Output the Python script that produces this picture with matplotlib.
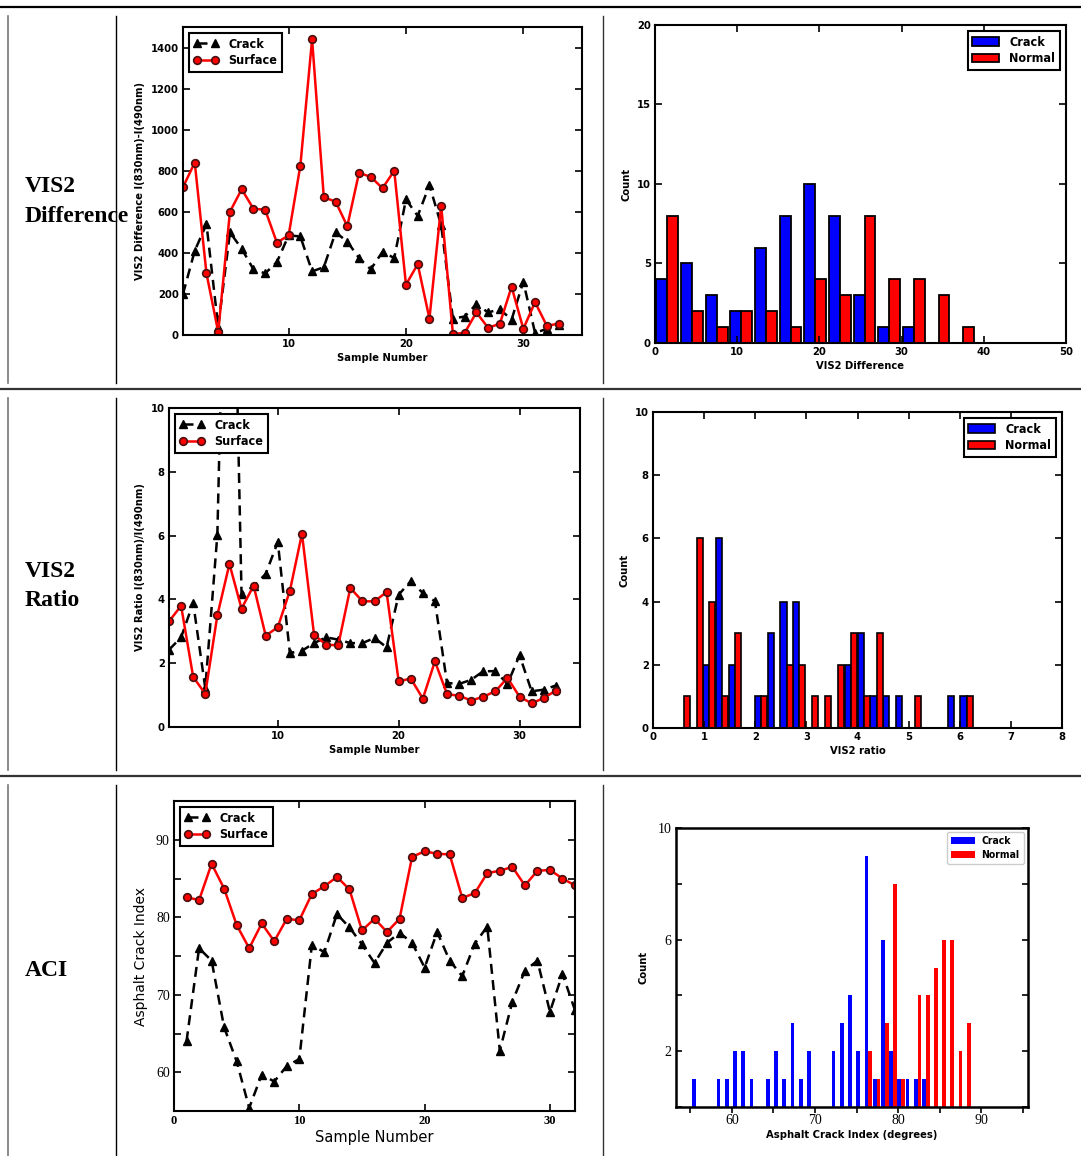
import numpy as np
import matplotlib
matplotlib.use("Agg")
import matplotlib.pyplot as plt
from matplotlib.lines import Line2D

# ---------------- data ----------------
samples_33 = list(range(1, 34))
samples_32 = list(range(1, 33))

diff_crack = [200, 410, 540, 40, 500, 420, 320, 300, 355, 485, 480, 310, 330, 500,
              455, 375, 320, 405, 375, 660, 580, 730, 535, 80, 90, 150, 110, 125,
              75, 260, 10, 30, 50]
diff_surface = [720, 840, 300, 15, 600, 710, 615, 610, 450, 485, 825, 1440, 670, 650,
                530, 790, 770, 715, 800, 245, 345, 80, 630, 5, 10, 110, 35, 55, 235,
                30, 160, 45, 55]

ratio_crack = [2.42, 2.81, 3.89, 1.22, 6.03, 22.0, 4.18, 4.41, 4.80, 5.80, 2.32, 2.39,
               2.63, 2.81, 2.74, 2.63, 2.63, 2.79, 2.50, 4.15, 4.57, 4.20, 3.94, 1.38,
               1.35, 1.48, 1.75, 1.75, 1.35, 2.25, 1.12, 1.17, 1.30]
ratio_surface = [3.31, 3.80, 1.57, 1.04, 3.50, 5.11, 3.71, 4.43, 2.86, 3.13, 4.27, 6.06,
                 2.89, 2.58, 2.56, 4.36, 3.94, 3.94, 4.23, 1.43, 1.52, 0.89, 2.06, 1.03,
                 0.98, 0.83, 0.95, 1.12, 1.54, 0.95, 0.74, 0.91, 1.14]

aci_crack = [64.0, 76.0, 74.4, 65.8, 61.4, 55.4, 59.7, 58.8, 60.8, 61.7, 76.4, 75.5,
             80.4, 78.7, 76.5, 74.1, 76.7, 78.0, 76.7, 73.5, 78.1, 74.4, 72.4, 76.6,
             78.8, 62.8, 69.1, 73.1, 74.4, 67.8, 72.7, 68.0]
aci_surface = [82.6, 82.2, 86.9, 83.7, 79.0, 76.0, 79.2, 76.9, 79.8, 79.6, 83.0, 84.0,
               85.2, 83.6, 78.3, 79.8, 78.1, 79.8, 87.8, 88.5, 88.2, 88.1, 82.5, 83.1,
               85.7, 86.0, 86.5, 84.1, 86.0, 86.1, 85.0, 84.1]

# histogram counts (bin start / bin width describe the binning)
diff_bin_start, diff_bin_width = 0.0, 3.0
diff_hist_crack = [4, 5, 3, 2, 6, 8, 10, 8, 3, 1, 1, 0, 0]
diff_hist_normal = [8, 2, 1, 2, 2, 1, 4, 3, 8, 4, 4, 3, 1]

ratio_bin_start, ratio_bin_width = 0.474, 0.2515
ratio_hist_crack = [0, 0, 2, 6, 2, 0, 1, 3, 4, 4, 0, 0, 0, 2, 3, 1, 1, 1, 0, 0, 0, 1, 1]
ratio_hist_normal = [1, 6, 4, 1, 3, 0, 1, 0, 2, 2, 1, 1, 2, 3, 1, 3, 0, 0, 1, 0, 0, 0, 1]

aci_bin_start, aci_bin_width = 55.19, 0.987
aci_hist_crack = [1, 0, 0, 1, 1, 2, 2, 1, 0, 1, 2, 1, 3, 1, 2, 0, 0, 2, 3, 4, 2, 9, 1,
                  6, 2, 1, 1, 1, 1, 0, 0, 0, 0, 0]
aci_hist_normal = [0, 0, 0, 0, 0, 0, 0, 0, 0, 0, 0, 0, 0, 0, 0, 0, 0, 0, 0, 0, 0, 2, 1,
                   3, 8, 1, 0, 4, 4, 5, 6, 6, 2, 3]

row_labels = [["VIS2", "Difference"], ["VIS2", "Ratio"], ["ACI"]]

# ---------------- figure ----------------
W, H = 1081, 1156
fig = plt.figure(figsize=(W / 100, H / 100), dpi=100)
fig.patch.set_facecolor("white")


def box(l, t, r, b):
    return fig.add_axes([l / W, 1 - b / H, (r - l) / W, (b - t) / H])


def hline(y, x0, x1, lw, color):
    fig.add_artist(Line2D([x0 / W, x1 / W], [1 - y / H, 1 - y / H],
                          transform=fig.transFigure, lw=lw, color=color))


def vline(x, y0, y1, lw, color):
    fig.add_artist(Line2D([x / W, x / W], [1 - y0 / H, 1 - y1 / H],
                          transform=fig.transFigure, lw=lw, color=color))


BOLD = dict(family="DejaVu Sans", weight="bold", stretch="condensed")
SERIF = dict(family="Liberation Serif")

# table rules
hline(7, 0, W, 1.6, "black")
hline(389, 0, W, 1.6, "#333333")
hline(776, 0, W, 1.6, "#333333")
for (y0, y1) in [(16, 383), (398, 770), (785, 1156)]:
    vline(8, y0, y1, 1.2, "#777777")
    vline(116, y0, y1, 1.0, "black")
    vline(603, y0, y1, 1.0, "#333333")

# row labels
rl_font = dict(family="Liberation Serif", weight="bold", fontsize=17)
for (lines, baselines) in zip(row_labels, [[192, 222], [577, 606], [976]]):
    for txt, yb in zip(lines, baselines):
        fig.text(25 / W, 1 - yb / H, txt, ha="left", va="baseline", **rl_font)


def classic_axes(ax, lw=1.5):
    for s in ax.spines.values():
        s.set_linewidth(lw)
        s.set_color("black")
    ax.tick_params(direction="in", top=True, right=True, length=5, width=1.2, pad=3)


def set_ticks(ax, xt, yt, xlab=None, ylab=None, font=BOLD, size=8):
    ax.set_xticks(xt)
    ax.set_yticks(yt)
    ax.set_xticklabels(xlab if xlab is not None else [str(v) for v in xt], fontsize=size, **font)
    ax.set_yticklabels(ylab if ylab is not None else [str(v) for v in yt], fontsize=size, **font)


def line_panel(ax, x, crack, surface, legsize=9):
    ax.plot(x, crack, color="black", ls="--", dashes=(4, 2.5), lw=1.8, marker="^",
            ms=6, mfc="black", mec="black", label="Crack", clip_on=True)
    ax.plot(x, surface, color="red", ls="-", lw=1.8, marker="o", ms=5.5,
            mfc="red", mec="#4a1010", mew=1.2, label="Surface", clip_on=True)
    leg = ax.legend(loc="upper left", numpoints=2, fancybox=False, framealpha=1,
                    edgecolor="black", prop=dict(size=legsize, **BOLD),
                    borderaxespad=0.5, handlelength=2.0, borderpad=0.35,
                    labelspacing=0.3, handletextpad=0.8)
    leg.get_frame().set_linewidth(1.5)


def grouped_hist(ax, start, width, crack, normal, rwidth, edgecolor, lw):
    edges = start + width * np.arange(len(crack))
    bw = width * rwidth / 2
    left = edges + width * (1 - rwidth) / 2
    kw = dict(align="edge", width=bw, linewidth=lw, edgecolor=edgecolor)
    ax.bar(left, crack, color="blue", label="Crack", **kw)
    ax.bar(left + bw, normal, color="red", label="Normal", **kw)


# ---------- Panel 1: VIS2 difference line ----------
ax1 = box(183, 27, 582, 335)
classic_axes(ax1)
line_panel(ax1, samples_33, diff_crack, diff_surface)
ax1.set_xlim(1, 35)
ax1.set_ylim(0, 1500)
set_ticks(ax1, [10, 20, 30], list(range(0, 1401, 200)))
ax1.set_xlabel("Sample Number", fontsize=8, labelpad=3, **BOLD)
ax1.set_ylabel("VIS2 Difference I(830nm)-I(490nm)", fontsize=8, labelpad=4, **BOLD)

# ---------- Panel 2: VIS2 difference histogram ----------
ax2 = box(655, 25, 1066, 343)
classic_axes(ax2)
grouped_hist(ax2, diff_bin_start, diff_bin_width, diff_hist_crack, diff_hist_normal,
             0.88, "black", 1.3)
ax2.set_xlim(0, 50)
ax2.set_ylim(0, 20)
set_ticks(ax2, list(range(0, 51, 10)), [0, 5, 10, 15, 20])
ax2.set_xlabel("VIS2 Difference", fontsize=8, labelpad=3, **BOLD)
ax2.set_ylabel("Count", fontsize=8, labelpad=4, **BOLD)
leg = ax2.legend(loc="upper right", fancybox=False, framealpha=1, edgecolor="black",
                 prop=dict(size=9, **BOLD), borderaxespad=0.5, handlelength=2.2,
                 borderpad=0.35, labelspacing=0.3, handletextpad=0.8)
leg.get_frame().set_linewidth(1.5)

# ---------- Panel 3: VIS2 ratio line ----------
ax3 = box(169, 408, 580, 727)
classic_axes(ax3)
line_panel(ax3, samples_33, ratio_crack, ratio_surface)
ax3.set_xlim(1, 35)
ax3.set_ylim(0, 10)
set_ticks(ax3, [10, 20, 30], list(range(0, 11, 2)))
ax3.set_xlabel("Sample Number", fontsize=8, labelpad=3, **BOLD)
ax3.set_ylabel("VIS2 Ratio I(830nm)/I(490nm)", fontsize=8, labelpad=4, **BOLD)

# ---------- Panel 4: VIS2 ratio histogram ----------
ax4 = box(653, 412, 1062, 728)
classic_axes(ax4)
grouped_hist(ax4, ratio_bin_start, ratio_bin_width, ratio_hist_crack, ratio_hist_normal,
             0.95, "black", 1.2)
ax4.set_xlim(0, 8)
ax4.set_ylim(0, 10)
set_ticks(ax4, list(range(0, 9)), list(range(0, 11, 2)))
ax4.set_xlabel("VIS2 ratio", fontsize=8, labelpad=3, **BOLD)
ax4.set_ylabel("Count", fontsize=8, labelpad=4, **BOLD)
leg = ax4.legend(loc="upper right", fancybox=False, framealpha=1, edgecolor="black",
                 prop=dict(size=9, **BOLD), borderaxespad=0.5, handlelength=2.2,
                 borderpad=0.35, labelspacing=0.3, handletextpad=0.8)
leg.get_frame().set_linewidth(1.5)

# ---------- Panel 5: ACI line ----------
ax5 = box(174, 801, 575, 1111)
classic_axes(ax5)
line_panel(ax5, samples_32, aci_crack, aci_surface)
ax5.set_xlim(0, 32)
ax5.set_ylim(55, 95)
ax5.set_xticks([0, 10, 20, 30])
ax5.set_xticklabels(["0", "10", "20", "30"], fontsize=9, family="Liberation Serif",
                    weight="bold")
ax5.set_yticks([60, 70, 80, 90])
ax5.set_yticklabels(["60", "70", "80", "90"], fontsize=10, **SERIF)
ax5.set_yticks([65, 75, 85], minor=True)
ax5.tick_params(which="minor", direction="in", right=True, left=True, length=5, width=1.2)
ax5.set_xlabel("Sample Number", fontsize=10.5, family="DejaVu Sans", labelpad=2)
ax5.set_ylabel("Asphalt Crack Index", fontsize=10, family="DejaVu Sans", labelpad=6)

# ---------- Panel 6: ACI histogram ----------
ax6 = box(676, 828, 1028, 1107)
for s in ax6.spines.values():
    s.set_linewidth(1.8)
grouped_hist(ax6, aci_bin_start, aci_bin_width, aci_hist_crack, aci_hist_normal,
             0.92, "none", 0)
ax6.set_xlim(53.3, 95.6)
ax6.set_ylim(0, 10)
ax6.set_xticks(list(range(55, 96, 5)))
ax6.set_xticklabels(["" if v % 10 else str(v) for v in range(55, 96, 5)], fontsize=10,
                    **SERIF)
ax6.set_yticks(list(range(0, 11, 2)))
ax6.set_yticklabels(["", "2", "", "6", "", "10"], fontsize=10, **SERIF)
ax6.tick_params(axis="x", direction="out", length=4, width=1.2, pad=1)
ax6.tick_params(axis="y", direction="in", right=True, length=4, width=1.2)
ax6.set_xlabel("Asphalt Crack Index (degrees)", fontsize=8, labelpad=2, **BOLD)
ax6.set_ylabel("Count", fontsize=8, labelpad=6, **BOLD)
leg = ax6.legend(loc="upper right", fancybox=True, framealpha=1, edgecolor="0.8",
                 prop=dict(size=7.5, **BOLD), borderaxespad=0.4, handlelength=2.3,
                 borderpad=0.4, labelspacing=0.35, handletextpad=0.6)

fig.savefig("out.png", dpi=100, facecolor="white")
